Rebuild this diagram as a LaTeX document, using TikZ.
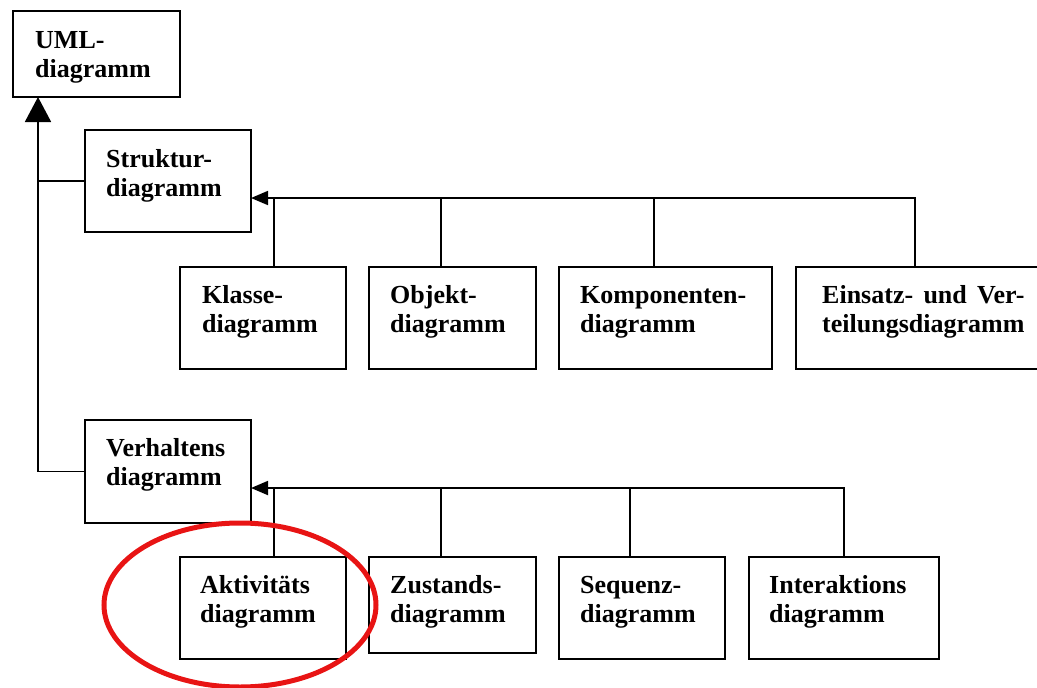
\documentclass[tikz,border=0pt]{standalone}
\usepackage{fontspec}
\setmainfont{Liberation Serif}
\usetikzlibrary{arrows.meta,calc}
\definecolor{markred}{RGB}{232,20,20}
\begin{document}
\begin{tikzpicture}[x=1pt,y=-1pt,
  box/.style={draw, line width=2pt, anchor=north west, inner sep=0pt, outer sep=0pt, minimum height=102pt},
  txt/.style={anchor=base west, align=left, inner sep=0pt, font=\bfseries\fontsize{26}{29}\selectfont},
  conn/.style={line width=1.8pt},
  bigtip/.style={-{Triangle[length=25pt,width=26pt]}},
  smalltip/.style={-{Triangle[length=17pt,width=14pt]}}]
\clip (0,0) rectangle (1037,688);
% boxes
\node[box, minimum width=167pt, minimum height=86pt,
  label={[txt, xshift=22pt, yshift=-66pt]north west:{UML-\\diagramm}}] (uml) at (13,11) {};
\node[box, minimum width=166pt,
  label={[txt, xshift=21pt, yshift=-66pt]north west:{Struktur-\\diagramm}}] (struk) at (85,130) {};
\node[box, minimum width=166pt, minimum height=103pt,
  label={[txt, xshift=21pt, yshift=-65pt]north west:{Verhaltens\\diagramm}}] (verh) at (85,420) {};
\node[box, minimum width=166pt,
  label={[txt, xshift=22pt, yshift=-65pt]north west:{Klasse-\\diagramm}}] (klasse) at (180,267) {};
\node[box, minimum width=167pt,
  label={[txt, xshift=21pt, yshift=-65pt]north west:{Objekt-\\diagramm}}] (objekt) at (369,267) {};
\node[box, minimum width=213pt,
  label={[txt, xshift=21pt, yshift=-65pt]north west:{Komponenten-\\diagramm}}] (komp) at (559,267) {};
\node[box, minimum width=260pt,
  label={[txt, xshift=26pt, yshift=-65pt]north west:{\setbox0\hbox{teilungsdiagramm}\hbox to\wd0{Einsatz-\hfill und\hfill Ver-}\\teilungsdiagramm}}] (einsatz) at (796,267) {};
\node[box, minimum width=166pt,
  label={[txt, xshift=20pt, yshift=-65pt]north west:{Aktivitäts\\diagramm}}] (akt) at (180,557) {};
\node[box, minimum width=167pt, minimum height=96pt,
  label={[txt, xshift=21pt, yshift=-65pt]north west:{Zustands-\\diagramm}}] (zust) at (369,557) {};
\node[box, minimum width=166pt,
  label={[txt, xshift=21pt, yshift=-65pt]north west:{Sequenz-\\diagramm}}] (seq) at (559,557) {};
\node[box, minimum width=190pt,
  label={[txt, xshift=20pt, yshift=-65pt]north west:{Interaktions\\diagramm}}] (inter) at (749,557) {};
% spine to UML
\coordinate (uf) at ($(uml.south west)+(25,0)$);
\draw[conn, bigtip] (verh.west) -| (uf);
\draw[conn] (struk.west) -- (struk.west -| uf);
% Struktur bus
\coordinate (sbus) at ($(struk.south east)+(0,-34)$);
\coordinate (kd) at ($(klasse.north west)+(94,0)$);
\coordinate (od) at ($(objekt.north west)+(72,0)$);
\coordinate (cd) at ($(komp.north west)+(95,0)$);
\coordinate (ed) at ($(einsatz.north west)+(119,0)$);
\draw[conn, smalltip] (ed) |- (sbus);
\draw[conn] (kd) -- (kd |- sbus);
\draw[conn] (od) -- (od |- sbus);
\draw[conn] (cd) -- (cd |- sbus);
% Verhalten bus
\coordinate (vbus) at ($(verh.south east)+(0,-35)$);
\coordinate (ad) at ($(akt.north west)+(94,0)$);
\coordinate (zd) at ($(zust.north west)+(72,0)$);
\coordinate (qd) at ($(seq.north west)+(71,0)$);
\coordinate (id) at ($(inter.north west)+(95,0)$);
\draw[conn, smalltip] (id) |- (vbus);
\draw[conn] (ad) -- (ad |- vbus);
\draw[conn] (zd) -- (zd |- vbus);
\draw[conn] (qd) -- (qd |- vbus);
% red marking
\draw[markred, line width=5pt] (240,605) ellipse [x radius=136, y radius=82];
\end{tikzpicture}
\end{document}
